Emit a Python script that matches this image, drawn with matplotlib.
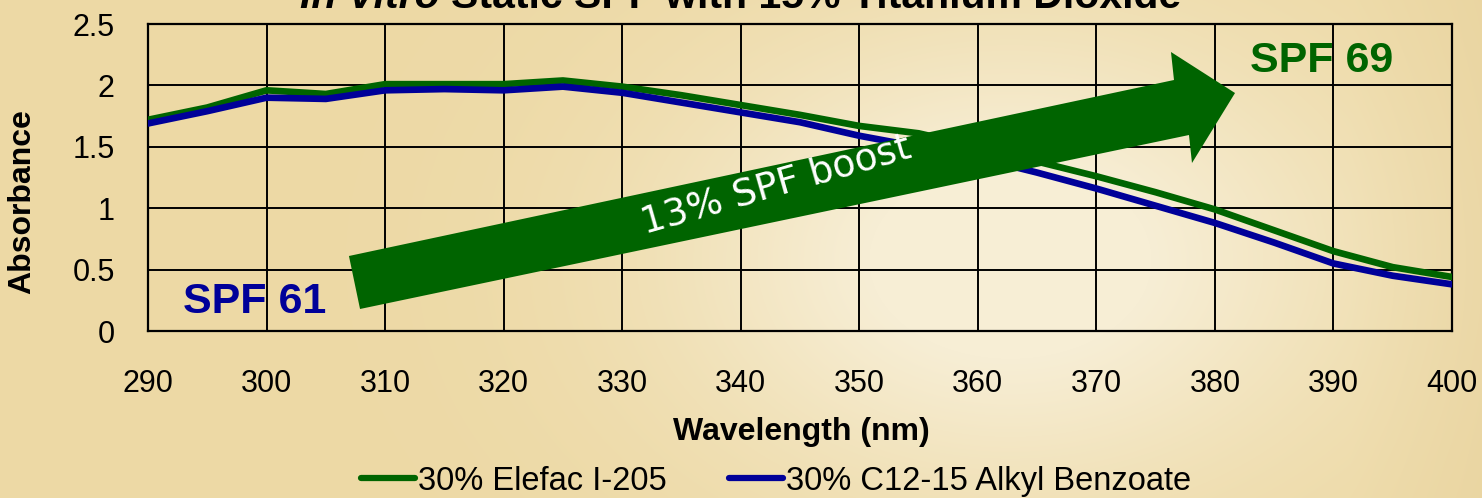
import numpy as np
import matplotlib
matplotlib.use("Agg")
import matplotlib.pyplot as plt
from matplotlib.patches import Polygon
from matplotlib.lines import Line2D

wavelength = [290, 295, 300, 305, 310, 315, 320, 325, 330, 335, 340, 345,
              350, 355, 360, 365, 370, 375, 380, 385, 390, 395, 400]
elefac = [1.72, 1.82, 1.96, 1.93, 2.01, 2.01, 2.01, 2.04, 1.99, 1.92, 1.84, 1.76,
          1.67, 1.61, 1.50, 1.38, 1.26, 1.13, 0.99, 0.82, 0.65, 0.52, 0.44]
alkyl_benzoate = [1.69, 1.79, 1.90, 1.89, 1.96, 1.97, 1.96, 1.99, 1.94, 1.86, 1.78, 1.70,
                  1.59, 1.50, 1.41, 1.29, 1.16, 1.02, 0.88, 0.72, 0.55, 0.45, 0.38]
series_names = ["30% Elefac I-205", "30% C12-15 Alkyl Benzoate"]
x_ticks = [290, 300, 310, 320, 330, 340, 350, 360, 370, 380, 390, 400]
y_ticks = [0, 0.5, 1, 1.5, 2, 2.5]
spf_low = "SPF 61"
spf_high = "SPF 69"
boost_text = "13% SPF boost"

GREEN = "#006400"
BLUE = "#000099"
W, H = 1482, 498

fig = plt.figure(figsize=(W / 100, H / 100), dpi=100)

# beige background with a soft light patch
yy, xx = np.mgrid[0:H, 0:W]
base = np.array([237, 217, 165]) / 255
light = np.array([247, 238, 213]) / 255
blob = np.exp(-(((xx - 1010) / 330.0) ** 2 + ((yy - 260) / 230.0) ** 2))
blob = np.clip(blob * 1.2, 0, 1)
edge = np.clip((xx - 1350) / 130.0, 0, 1) * 0.35
grad = base + (light - base) * blob[..., None]
grad = grad - edge[..., None] * (base - np.array([228, 205, 150]) / 255)
bg = fig.add_axes([0, 0, 1, 1])
bg.imshow(np.clip(grad, 0, 1), aspect="auto", interpolation="bilinear")
bg.axis("off")

ax = fig.add_axes([148 / W, 1 - 331 / H, 1304 / W, 307 / H])
ax.set_facecolor("none")
ax.plot(wavelength, elefac, color=GREEN, lw=4.8, zorder=3)
ax.plot(wavelength, alkyl_benzoate, color=BLUE, lw=4.8, zorder=3)
ax.set_xlim(290, 400)
ax.set_ylim(0, 2.5)
ax.set_xticks(x_ticks)
ax.set_yticks(y_ticks)
ax.set_yticklabels(["{:g}".format(v) for v in y_ticks])
ax.grid(True, color="black", lw=1.4)
ax.tick_params(axis="both", length=0, labelsize=22)
ax.tick_params(axis="x", pad=27)
ax.tick_params(axis="y", pad=24)
for lab in ax.get_xticklabels() + ax.get_yticklabels():
    lab.set_family("Liberation Sans")
for s in ax.spines.values():
    s.set_color("black")
    s.set_linewidth(1.6)

# big arrow (axes fraction)
arrow_pts = [(0.1541, 0.2443), (0.7868, 0.8176), (0.7845, 0.9088), (0.8336, 0.7752),
             (0.8006, 0.5472), (0.7983, 0.6384), (0.1626, 0.0717)]
ax.add_patch(Polygon(arrow_pts, closed=True, transform=ax.transAxes,
                     facecolor=GREEN, edgecolor="none", zorder=5))
ax.text(0.4816, 0.4756, boost_text, transform=ax.transAxes, color="white",
        fontsize=27, rotation=16, rotation_mode="anchor", ha="center", va="center",
        zorder=6)

ax.text(299.0, 0.236, spf_low, color=BLUE, fontsize=31, fontweight="bold",
        family="Liberation Sans", ha="center", va="center", zorder=4)
ax.text(389.0, 2.20, spf_high, color=GREEN, fontsize=31, fontweight="bold",
        family="Liberation Sans", ha="center", va="center", zorder=4)

fig.text(22 / W, 1 - 202 / H, "Absorbance", rotation=90, fontsize=23,
         fontweight="bold", family="Liberation Sans", ha="center", va="center")
fig.text(801 / W, 1 - 432 / H, "Wavelength (nm)", fontsize=23,
         fontweight="bold", family="Liberation Sans", ha="center", va="center")

# title, mostly cut off above the figure (as in the original)
t1 = fig.text(300 / W, 1 - 8 / H, "In Vitro ", fontsize=29.5, fontweight="bold",
              style="italic", family="Liberation Sans", ha="left", va="baseline")
fig.canvas.draw()
bb = t1.get_window_extent()
fig.text(bb.x1 / W, 1 - 8 / H, "Static SPF with 15% Titanium Dioxide", fontsize=29.5,
         fontweight="bold", family="Liberation Sans", ha="left", va="baseline")

handles = [Line2D([], [], color=GREEN, lw=4.5, solid_capstyle="round"),
           Line2D([], [], color=BLUE, lw=4.5, solid_capstyle="round")]
fig.legend(handles, series_names, loc="center", bbox_to_anchor=(776 / W, 1 - 481 / H),
           ncol=2, frameon=False, handlelength=1.65, handletextpad=0.1,
           columnspacing=1.9, prop={"family": "Liberation Sans", "size": 23.5})

fig.savefig("out.png", dpi=100)
